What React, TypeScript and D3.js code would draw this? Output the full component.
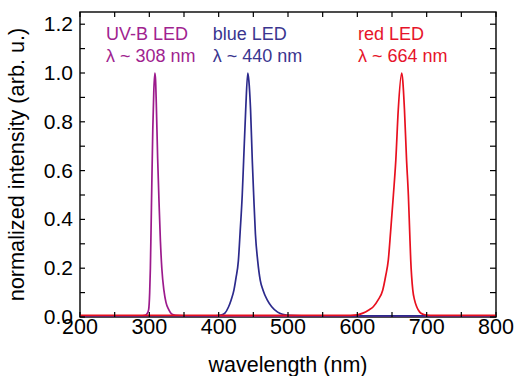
import React from "react";
import * as d3 from "d3";

const uvbWavelength = [200, 290, 294, 297, 299, 300.5, 301.5, 302.5, 303.5, 305, 306.5, 308, 309, 310, 312, 314, 316, 318, 321, 324, 328, 332, 338, 350, 800];
const uvbIntensity = [0.005, 0.005, 0.007, 0.015, 0.03, 0.1, 0.2, 0.36, 0.53, 0.77, 0.93, 1.0, 0.97, 0.88, 0.65, 0.47, 0.31, 0.2, 0.11, 0.06, 0.03, 0.013, 0.007, 0.005, 0.005];

const blueWavelength = [200, 395, 403, 409, 414, 418, 422, 425, 428.4, 431, 434, 436, 439, 442, 443.5, 446, 448.5, 450.5, 453, 456.3, 460, 464, 470, 476.5, 485, 492, 500, 520, 800];
const blueIntensity = [0.005, 0.005, 0.008, 0.016, 0.04, 0.07, 0.11, 0.16, 0.23, 0.35, 0.5, 0.64, 0.85, 1.0, 0.97, 0.85, 0.64, 0.5, 0.34, 0.23, 0.15, 0.11, 0.07, 0.042, 0.02, 0.011, 0.007, 0.005, 0.005];

const redWavelength = [200, 590, 600, 608, 616, 623, 630, 636.6, 641, 644.7, 648, 652, 655.5, 659, 664, 665.5, 668, 671, 673.6, 675.5, 677, 680, 682.5, 685.6, 690, 695, 700, 710, 800];
const redIntensity = [0.007, 0.007, 0.009, 0.016, 0.028, 0.042, 0.07, 0.11, 0.17, 0.234, 0.35, 0.5, 0.643, 0.848, 1.0, 0.97, 0.848, 0.643, 0.5, 0.35, 0.234, 0.11, 0.07, 0.042, 0.02, 0.011, 0.008, 0.007, 0.007];

const xTickValues = [200, 300, 400, 500, 600, 700, 800];
const yTickValues = [0.0, 0.2, 0.4, 0.6, 0.8, 1.0, 1.2];

const labelNames = ["UV-B LED", "blue LED", "red LED"];
const labelLambdas = ["λ ~ 308 nm", "λ ~ 440 nm", "λ ~ 664 nm"];
const labelWavelengths = [237.5, 391.5, 601];

const W = 515;
const H = 376;
const M = { left: 80, right: 496, top: 12, bottom: 317 };

export default function App() {
  const x = d3.scaleLinear().domain([200, 800]).range([M.left, M.right]);
  const y = d3.scaleLinear().domain([0, 1.25]).range([M.bottom, M.top]);

  const line = d3
    .line<[number, number]>()
    .x((d) => x(d[0]))
    .y((d) => y(d[1]))
    .curve(d3.curveMonotoneX);

  const series = [
    { w: uvbWavelength, v: uvbIntensity, color: "#9c1a8c" },
    { w: blueWavelength, v: blueIntensity, color: "#2c2a8c" },
    { w: redWavelength, v: redIntensity, color: "#e8101f" },
  ];
  const textColors = ["#a0238f", "#3a358f", "#e6142a"];

  const xMinor = d3.range(200, 801, 50);
  const yMinor = d3.range(0, 1.251, 0.1);

  const font = "Liberation Sans, Arial, Helvetica, sans-serif";

  return (
    <svg
      width={W}
      height={H}
      style={{ position: "absolute", left: 0, top: 0, background: "#fff" }}
      fontFamily={font}
    >
      <rect x={0} y={0} width={W} height={H} fill="#fff" />
      {/* frame */}
      <rect
        x={M.left}
        y={M.top}
        width={M.right - M.left}
        height={M.bottom - M.top}
        fill="none"
        stroke="#000"
        strokeWidth={1.4}
      />
      {series.map((s, i) => (
        <path
          key={i}
          d={line(s.w.map((w, j) => [w, s.v[j]] as [number, number])) || ""}
          fill="none"
          stroke={s.color}
          strokeWidth={1.7}
          strokeLinejoin="round"
        />
      ))}
      {/* x ticks bottom & top */}
      {xMinor.map((t) => (
        <g key={"xt" + t}>
          <line x1={x(t)} x2={x(t)} y1={M.bottom} y2={M.bottom - 5} stroke="#000" strokeWidth={1.2} />
          <line x1={x(t)} x2={x(t)} y1={M.top} y2={M.top + 5} stroke="#000" strokeWidth={1.2} />
        </g>
      ))}
      {/* y ticks left & right */}
      {yMinor.map((t, i) => (
        <g key={"yt" + i}>
          <line x1={M.left} x2={M.left + 5} y1={y(t)} y2={y(t)} stroke="#000" strokeWidth={1.2} />
          <line x1={M.right} x2={M.right - 6} y1={y(t)} y2={y(t)} stroke="#000" strokeWidth={1.2} />
        </g>
      ))}
      {xTickValues.map((t) => (
        <text key={"xl" + t} x={x(t)} y={334} fontSize={21.5} textAnchor="middle" fill="#000">
          {t}
        </text>
      ))}
      {yTickValues.map((t) => (
        <text key={"yl" + t} x={73} y={y(t) + 7} fontSize={21} textAnchor="end" fill="#000">
          {t.toFixed(1)}
        </text>
      ))}
      <text x={(M.left + M.right) / 2} y={372} fontSize={21.5} textAnchor="middle" fill="#000">
        wavelength (nm)
      </text>
      <text
        transform={`translate(24, ${(M.top + M.bottom) / 2}) rotate(-90)`}
        fontSize={21.7}
        textAnchor="middle"
        fill="#000"
      >
        normalized intensity (arb. u.)
      </text>
      {labelNames.map((n, i) => (
        <g key={"lab" + i} fill={textColors[i]} fontSize={18}>
          <text x={x(labelWavelengths[i])} y={40}>{n}</text>
          <text x={x(labelWavelengths[i])} y={62}>{labelLambdas[i]}</text>
        </g>
      ))}
    </svg>
  );
}
